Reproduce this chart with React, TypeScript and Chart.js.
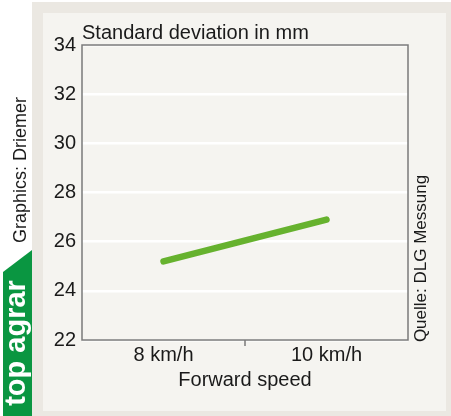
import React, { useEffect, useRef } from "react";
import { Chart, registerables } from "chart.js";

Chart.register(...registerables);

const categories = ["8 km/h", "10 km/h"];
const stdDeviation = [25.2, 26.9];
const yTicks = [22, 24, 26, 28, 30, 32, 34];
const chartTitle = "Standard deviation in mm";
const xAxisTitle = "Forward speed";
const sourceText = "Quelle: DLG Messung";
const creditText = "Graphics: Driemer";
const brandText = "top agrar";

const FONT = "'Liberation Sans', Arial, sans-serif";

const decorPlugin = {
  id: "decor",
  beforeDraw(chart: any) {
    const { ctx, width, height } = chart;
    ctx.save();
    ctx.fillStyle = "#ffffff";
    ctx.fillRect(0, 0, width, height);
    ctx.fillStyle = "#ebe8e2";
    ctx.fillRect(32, 2, width - 32, height - 2);
    ctx.fillStyle = "#f5f4f0";
    ctx.fillRect(43, 13, 403, 398);
    ctx.fillStyle = "#0a9641";
    ctx.beginPath();
    ctx.moveTo(3, 272);
    ctx.lineTo(32, 250);
    ctx.lineTo(32, height);
    ctx.lineTo(3, height);
    ctx.closePath();
    ctx.fill();
    ctx.restore();
  },
  beforeDatasetsDraw(chart: any) {
    const { ctx, chartArea } = chart;
    const x = chart.scales.x;
    ctx.save();
    ctx.strokeStyle = "#7a7a7a";
    ctx.lineWidth = 1.5;
    ctx.strokeRect(chartArea.left, chartArea.top, chartArea.right - chartArea.left, chartArea.bottom - chartArea.top);
    const mid = (x.getPixelForTick(0) + x.getPixelForTick(1)) / 2;
    ctx.beginPath();
    ctx.moveTo(mid, chartArea.bottom);
    ctx.lineTo(mid, chartArea.bottom + 6);
    ctx.stroke();
    ctx.restore();
  },
  afterDraw(chart: any) {
    const { ctx, chartArea } = chart;
    ctx.save();
    ctx.fillStyle = "#1a1a1a";
    ctx.textBaseline = "alphabetic";
    ctx.textAlign = "left";
    ctx.font = `20px ${FONT}`;
    ctx.fillText(chartTitle, chartArea.left, 39);

    ctx.textAlign = "center";
    ctx.save();
    ctx.translate(426, 258.5);
    ctx.rotate(-Math.PI / 2);
    ctx.font = `17px ${FONT}`;
    ctx.fillText(sourceText, 0, 0);
    ctx.restore();
    ctx.save();
    ctx.translate(25.5, 170);
    ctx.rotate(-Math.PI / 2);
    ctx.font = `18px ${FONT}`;
    ctx.fillText(creditText, 0, 0);
    ctx.restore();
    ctx.save();
    ctx.translate(25, 343);
    ctx.rotate(-Math.PI / 2);
    ctx.fillStyle = "#ffffff";
    ctx.font = `bold 29px ${FONT}`;
    ctx.fillText(brandText, 0, 0);
    ctx.restore();
    ctx.restore();
  },
};

export default function App() {
  const ref = useRef<HTMLCanvasElement | null>(null);
  useEffect(() => {
    if (!ref.current) return;
    const chart = new Chart(ref.current, {
      type: "line",
      data: {
        labels: categories,
        datasets: [
          {
            data: stdDeviation,
            borderColor: "#66b22e",
            borderWidth: 6.5,
            borderCapStyle: "round",
            pointRadius: 0,
            tension: 0,
            fill: false,
          },
        ],
      },
      options: {
        responsive: false,
        animation: false,
        layout: { padding: { left: 0, top: 45, right: 43, bottom: 0 } },
        plugins: { legend: { display: false }, tooltip: { enabled: false }, title: { display: false } },
        scales: {
          x: {
            type: "category",
            offset: true,
            grid: { display: false, drawTicks: false },
            border: { display: false },
            ticks: { color: "#1a1a1a", font: { family: FONT, size: 20 }, padding: 3, maxRotation: 0 },
            title: {
              display: true,
              text: xAxisTitle,
              color: "#1a1a1a",
              font: { family: FONT, size: 20 },
              padding: { top: 0, bottom: 24 },
            },
            afterFit: (s: any) => {
              s.height = 76;
            },
          },
          y: {
            min: yTicks[0],
            max: yTicks[yTicks.length - 1],
            afterBuildTicks: (s: any) => {
              s.ticks = yTicks.map((v) => ({ value: v }));
            },
            grid: { color: "#ffffff", lineWidth: 2.5, drawTicks: false },
            border: { display: false },
            ticks: { color: "#1a1a1a", font: { family: FONT, size: 20 }, padding: 6 },
            afterFit: (s: any) => {
              s.width = 82;
            },
          },
        },
      },
      plugins: [decorPlugin],
    } as any);
    return () => chart.destroy();
  }, []);
  return (
    <div style={{ position: "absolute", left: 0, top: 0, width: 451, height: 416 }}>
      <canvas ref={ref} width={451} height={416} style={{ display: "block" }} />
    </div>
  );
}
